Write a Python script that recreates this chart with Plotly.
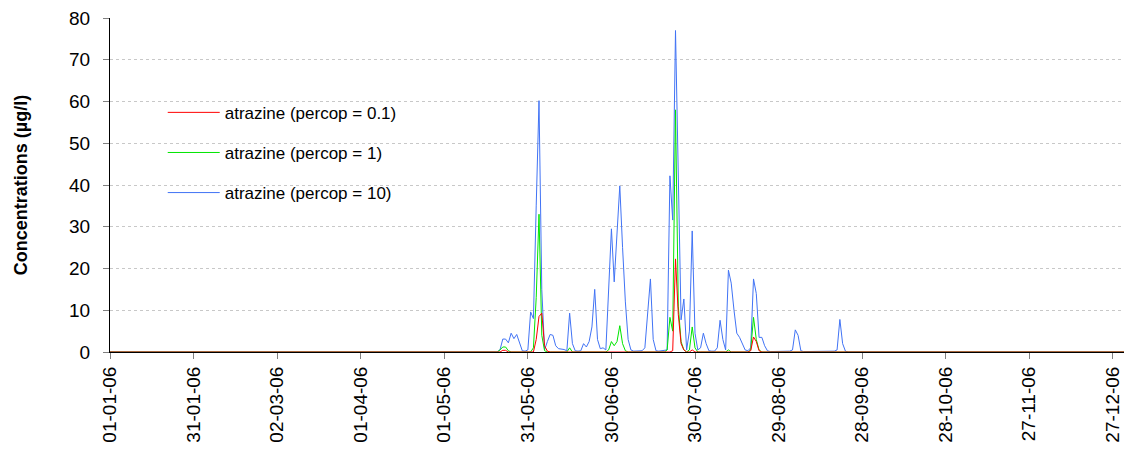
import datetime as dt
import plotly.graph_objects as go

# Daily simulated atrazine concentrations (µg/l) for 2006.
# Only days with non-zero output are listed (day-of-year index, 0 = 01-01-06).
year_start = dt.date(2006, 1, 1)
n_days = 365

red_days = [141, 142, 153, 154, 155, 156, 157, 202, 203, 204, 205, 206, 209, 230, 231, 232, 233]
red_vals = [0.4, 0.4, 3.0, 8.5, 9.3, 1.5, 0.2, 0.3, 22.3, 9.0, 2.0, 0.5, 0.5, 0.3, 3.6, 2.5, 0.3]

green_days = [140, 141, 142, 143, 152, 153, 154, 155, 156, 165, 179, 180, 181, 182, 183, 184, 185,
              200, 201, 202, 203, 204, 205, 206, 208, 209, 210, 222, 230, 231, 232, 233]
green_vals = [0.5, 1.2, 1.2, 0.3, 1.0, 13.0, 33.0, 4.0, 0.3, 1.0, 0.5, 2.5, 1.5, 2.5, 6.3, 2.0, 0.3,
              0.5, 8.3, 5.0, 58.0, 11.0, 2.5, 0.5, 0.5, 6.0, 1.0, 0.5, 0.5, 8.3, 3.0, 0.5]

blue_days = list(range(139, 265))
blue_vals = [
    0.0, 0.5, 3.1, 3.1, 2.2, 4.5, 3.2, 4.2, 2.0, 0.3,   # 139-148
    0.2, 0.5, 9.6, 8.0, 35.0, 60.2, 15.0, 0.5, 2.5, 4.2,  # 149-158
    4.0, 1.5, 0.8, 0.7, 0.6, 0.3, 9.3, 2.0, 0.3, 0.2,   # 159-168
    0.3, 2.0, 1.2, 2.5, 6.0, 15.0, 3.0, 0.8, 1.0, 0.5,  # 169-178
    14.0, 29.5, 16.8, 28.0, 39.8, 25.0, 12.0, 3.0, 0.5, 0.2,  # 179-188
    0.2, 0.3, 0.3, 1.0, 9.0, 17.5, 3.0, 0.3, 0.2, 0.3,  # 189-198
    0.3, 0.5, 42.2, 31.6, 77.0, 38.0, 7.7, 12.7, 0.5, 5.0,  # 199-208
    29.0, 4.5, 0.5, 1.0, 4.5, 2.0, 0.3, 0.2, 0.2, 1.0,  # 209-218
    7.6, 3.0, 0.5, 19.6, 16.5, 10.0, 4.5, 3.5, 2.0, 0.5,  # 219-228
    0.3, 1.0, 17.5, 14.0, 3.5, 3.5, 1.5, 0.3, 0.1, 0.1,  # 229-238
    0.1, 0.1, 0.1, 0.1, 0.1, 0.2, 0.5, 5.3, 4.0, 0.3,  # 239-248
    0.1, 0.1, 0.1, 0.1, 0.1, 0.1, 0.1, 0.1, 0.1, 0.1,  # 249-258
    0.1, 0.2, 0.5, 7.8, 2.0, 0.2,                      # 259-264
]

tick_labels = ["01-01-06", "31-01-06", "02-03-06", "01-04-06", "01-05-06", "31-05-06",
               "30-06-06", "30-07-06", "29-08-06", "28-09-06", "28-10-06", "27-11-06", "27-12-06"]
y_ticks = [0, 10, 20, 30, 40, 50, 60, 70, 80]

dates = [year_start + dt.timedelta(days=i) for i in range(n_days)]


def daily_series(days, vals):
    series = [0.0] * n_days
    for d, v in zip(days, vals):
        series[d] = v
    return series


tick_dates = [dt.datetime.strptime(t, "%d-%m-%y").date() for t in tick_labels]

fig = go.Figure()
traces = [
    ("atrazine (percop = 10)", daily_series(blue_days, blue_vals), "#4173f5", 3),
    ("atrazine (percop = 1)", daily_series(green_days, green_vals), "#00e600", 2),
    ("atrazine (percop = 0.1)", daily_series(red_days, red_vals), "#ff0000", 1),
]
for name, ys, color, rank in traces:
    fig.add_trace(go.Scatter(
        x=dates, y=ys, mode="lines", name=name,
        line=dict(color=color, width=1),
        legendrank=rank, legendgroup=name,
    ))

font_family = "Liberation Sans, Arial, sans-serif"
fig.update_layout(
    width=1126, height=452,
    margin=dict(l=110, r=2, t=18, b=100),
    paper_bgcolor="white", plot_bgcolor="white",
    font=dict(family=font_family, size=17, color="black"),
    showlegend=True,
    legend=dict(
        x=0.052, y=0.77, xanchor="left", yanchor="top",
        bgcolor="rgba(0,0,0,0)", borderwidth=0,
        font=dict(size=17), tracegroupgap=15, itemwidth=52,
    ),
    xaxis=dict(
        range=[dt.date(2006, 1, 1), dt.date(2006, 12, 31)],
        tickvals=tick_dates, ticktext=tick_labels, tickangle=-90,
        ticks="outside", ticklen=6, tickcolor="#808080",
        showline=True, linecolor="black", linewidth=1,
        showgrid=False, zeroline=False,
        tickfont=dict(size=19),
    ),
    yaxis=dict(
        range=[0, 80], tickvals=y_ticks,
        ticks="outside", ticklen=6, tickcolor="#808080",
        showline=True, linecolor="black", linewidth=1,
        showgrid=True, gridcolor="#c8c8c8", griddash="dot", gridwidth=1,
        zeroline=False, ticklabelstandoff=9,
        title=dict(text="<b>Concentrations (µg/l)</b>", font=dict(size=18), standoff=36),
        tickfont=dict(size=19),
    ),
)

fig.write_html("out.html")
